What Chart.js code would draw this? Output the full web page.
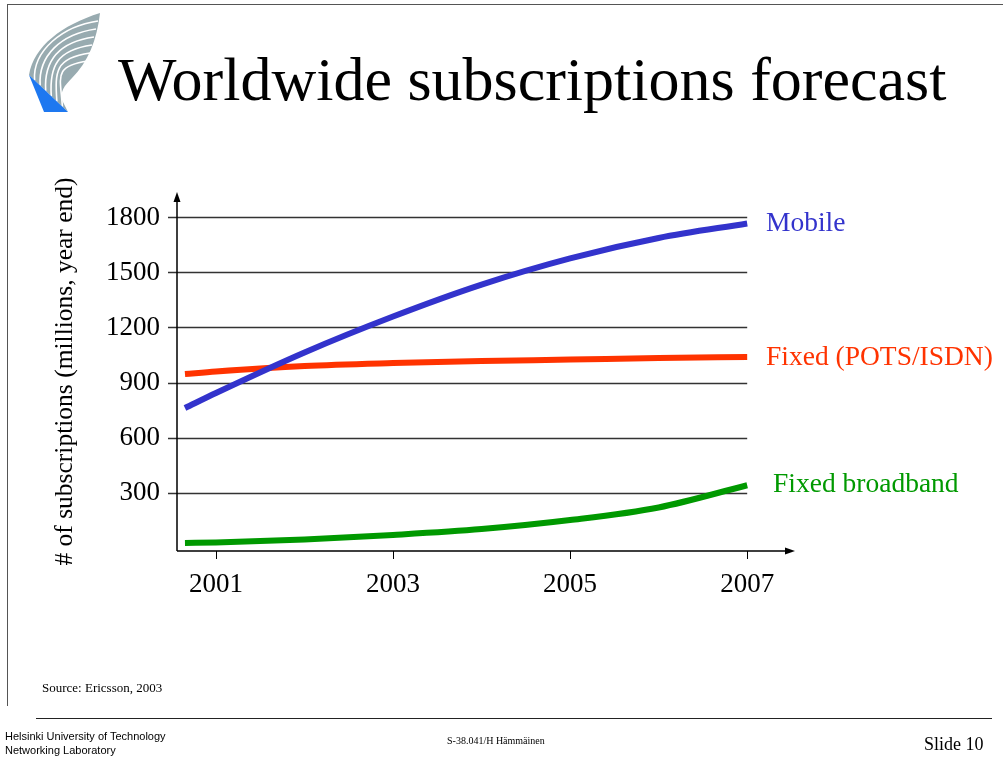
<!DOCTYPE html>
<html>
<head>
<meta charset="utf-8">
<title>Worldwide subscriptions forecast</title>
<script src="https://cdn.jsdelivr.net/npm/chart.js@4.4.1/dist/chart.umd.min.js"></script>
<style>
    html, body { margin: 0; padding: 0; background: #fff; }
    .slide { position: relative; width: 1003px; height: 757px; overflow: hidden; font-family: 'Liberation Serif', 'Times New Roman', serif; }
    .slide canvas { position: absolute; left: 0; top: 0; }
    .border-top { position: absolute; left: 7px; top: 4px; width: 996px; height: 1px; background: #555; }
    .border-left { position: absolute; left: 7px; top: 4px; width: 1px; height: 702px; background: #555; }
    .rule { position: absolute; left: 36px; top: 718px; width: 956px; height: 1px; background: #222; }
    .title { position: absolute; left: 118px; top: 48px; font-size: 62px; line-height: 62px; white-space: nowrap; color: #000; }
    .txt { position: absolute; white-space: nowrap; color: #000; }
    .sans { font-family: 'Liberation Sans', Arial, sans-serif; }
</style>
</head>
<body>
<div class="slide">
    <div class="border-top"></div>
    <div class="border-left"></div>
    <svg id="logo" width="110" height="120" style="position:absolute;left:0;top:0">
        <path d="M29,75 C34,46 62,25 100,13 C97,40 88,62 72,78 C64,86 60,92 62,100 L68,112 Z" fill="#98abb0"/>
        <g id="stripes" stroke="#fff" stroke-width="1.6" fill="none"></g>
        <path d="M29,75 L68,112 L44,112 Z" fill="#1e78f0"/>
    </svg>
    <div class="title">Worldwide subscriptions forecast</div>
    <canvas id="chart" width="1003" height="757"></canvas>
    <div class="txt" style="left:42px;top:681px;font-size:13px;line-height:13px">Source: Ericsson, 2003</div>
    <div class="rule"></div>
    <div class="txt sans" style="left:5px;top:731px;font-size:11px;line-height:11px">Helsinki University of Technology</div>
    <div class="txt sans" style="left:5px;top:745px;font-size:11px;line-height:11px">Networking Laboratory</div>
    <div class="txt" style="left:447px;top:736px;font-size:10px;line-height:10px">S-38.041/H Hämmäinen</div>
    <div class="txt" style="left:924px;top:735px;font-size:18px;line-height:18px">Slide 10</div>
</div>
<script>
// values (millions of subscriptions, year end)
const years = [2000.65, 2001, 2002, 2003, 2004, 2005, 2006, 2007];
const mobile = [761, 843, 1064, 1260, 1434, 1577, 1688, 1767];
const fixedPots = [946, 960, 990, 1006, 1017, 1025, 1034, 1039];
const broadband = [25, 28, 44, 69, 101, 150, 219, 340];

const xTicks = [2001, 2003, 2005, 2007];
const yTicks = [300, 600, 900, 1200, 1500, 1800];
const seriesNames = ['Mobile', 'Fixed (POTS/ISDN)', 'Fixed broadband'];
const seriesColors = ['#3333cc', '#ff3300', '#009900'];

const SERIF = "'Liberation Serif', 'Times New Roman', serif";

// white stripes on the logo wing
const stripes = document.getElementById('stripes');
for (let k = 1; k <= 6; k++) {
    const t = k / 7;
    const sx = 29 + 39 * t, sy = 75 + 37 * t;
    const ex = 100 - 2 * k, ey = 13 + 8 * k;
    const p = document.createElementNS('http://www.w3.org/2000/svg', 'path');
    p.setAttribute('d', `M${sx},${sy} C${sx - 2},${sy - 30} ${ex - 35},${ey + 5} ${ex},${ey}`);
    stripes.appendChild(p);
}

const toPoints = (values) => values.map((v, i) => ({ x: years[i], y: v }));

const labelPlaces = [
    { x: 766, y: 231 },
    { x: 766, y: 365 },
    { x: 773, y: 492 }
];

const slideAxes = {
    id: 'slideAxes',
    beforeDatasetsDraw(chart) {
        const { ctx, chartArea, scales: { x, y } } = chart;
        const gridEnd = x.getPixelForValue(xTicks[xTicks.length - 1]);
        ctx.save();
        ctx.strokeStyle = '#333';
        ctx.lineWidth = 1.5;
        yTicks.forEach((v) => {
            const py = Math.round(y.getPixelForValue(v)) + 0.5;
            ctx.beginPath();
            ctx.moveTo(chartArea.left - 9, py);
            ctx.lineTo(gridEnd, py);
            ctx.stroke();
        });

        // axes with arrow heads
        ctx.strokeStyle = '#000';
        ctx.fillStyle = '#000';
        ctx.lineWidth = 1.5;
        const left = chartArea.left, bottom = chartArea.bottom;
        ctx.beginPath();
        ctx.moveTo(left, bottom);
        ctx.lineTo(left, chartArea.top + 8);
        ctx.moveTo(left, bottom);
        ctx.lineTo(chartArea.right - 8, bottom);
        ctx.stroke();
        ctx.beginPath();
        ctx.moveTo(left, chartArea.top);
        ctx.lineTo(left - 3.5, chartArea.top + 10);
        ctx.lineTo(left + 3.5, chartArea.top + 10);
        ctx.closePath();
        ctx.fill();
        ctx.beginPath();
        ctx.moveTo(chartArea.right, bottom);
        ctx.lineTo(chartArea.right - 10, bottom - 3.5);
        ctx.lineTo(chartArea.right - 10, bottom + 3.5);
        ctx.closePath();
        ctx.fill();

        ctx.lineWidth = 1;
        xTicks.forEach((v) => {
            const px = Math.round(x.getPixelForValue(v)) + 0.5;
            ctx.beginPath();
            ctx.moveTo(px, bottom);
            ctx.lineTo(px, bottom + 8);
            ctx.stroke();
        });
        ctx.restore();
    },
    afterDatasetsDraw(chart) {
        const { ctx } = chart;
        ctx.save();
        ctx.font = `27.5px ${SERIF}`;
        ctx.textBaseline = 'alphabetic';
        seriesNames.forEach((name, i) => {
            ctx.fillStyle = seriesColors[i];
            ctx.fillText(name, labelPlaces[i].x, labelPlaces[i].y);
        });
        ctx.restore();
    }
};

const tickFont = { family: SERIF, size: 27 };

new Chart(document.getElementById('chart'), {
    type: 'line',
    data: {
        datasets: [
            { label: seriesNames[0], data: toPoints(mobile), borderColor: seriesColors[0] },
            { label: seriesNames[1], data: toPoints(fixedPots), borderColor: seriesColors[1] },
            { label: seriesNames[2], data: toPoints(broadband), borderColor: seriesColors[2] }
        ]
    },
    options: {
        responsive: false,
        animation: false,
        devicePixelRatio: 1,
        layout: { padding: { top: 192, right: 208, left: 0, bottom: 0 } },
        elements: {
            line: { borderWidth: 6, tension: 0.4, cubicInterpolationMode: 'monotone', fill: false, borderCapStyle: 'butt' },
            point: { radius: 0, hoverRadius: 0 }
        },
        plugins: { legend: { display: false }, tooltip: { enabled: false } },
        scales: {
            x: {
                type: 'linear',
                min: 2000.56,
                max: 2007.54,
                grid: { display: false },
                border: { display: false },
                ticks: { color: '#000', font: tickFont, padding: 10, maxRotation: 0, callback: (v) => String(v) },
                afterBuildTicks: (s) => { s.ticks = xTicks.map((v) => ({ value: v })); },
                afterFit: (s) => { s.height = 206; }
            },
            y: {
                type: 'linear',
                min: -18.5,
                max: 1938.6,
                grid: { display: false },
                border: { display: false },
                ticks: { color: '#000', font: tickFont, padding: 9, callback: (v) => String(v) },
                afterBuildTicks: (s) => { s.ticks = yTicks.map((v) => ({ value: v })); },
                afterFit: (s) => { s.width = 177; },
                title: {
                    display: true,
                    text: '# of subscriptions (millions, year end)',
                    color: '#000',
                    font: { family: SERIF, size: 25.5 },
                    padding: { top: 50, bottom: 0 }
                }
            }
        }
    },
    plugins: [slideAxes]
});
</script>
</body>
</html>
